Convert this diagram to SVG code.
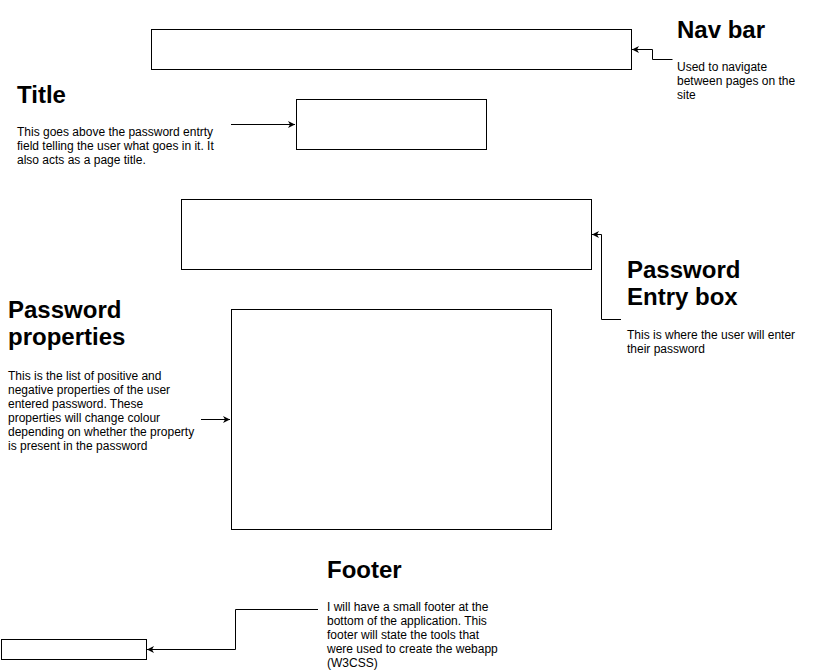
<svg xmlns="http://www.w3.org/2000/svg" width="813" height="670" viewBox="0 0 813 670">
<defs>
<marker id="arr" markerWidth="8" markerHeight="8" refX="7" refY="4" orient="auto" markerUnits="userSpaceOnUse">
<path d="M0,0.5 L7,4 L0,7.5 L2,4 Z" fill="#000"/>
</marker>
<style>
.box{fill:#fff;stroke:#000;stroke-width:1}
.h{font-family:"Liberation Sans",Arial,sans-serif;font-size:24px;font-weight:bold;fill:#000}
.t{font-family:"Liberation Sans",Arial,sans-serif;font-size:12px;fill:#000}
.c{fill:none;stroke:#000;stroke-width:1;marker-end:url(#arr)}
</style>
</defs>
<rect width="813" height="670" fill="#fff"/>
<g id="connectors">
<path class="c" d="M672.5,59.5 H652.5 V49.5 H632"/>
<path class="c" d="M231,124.5 H295"/>
<path class="c" d="M621,319.5 H601.5 V234.5 H592"/>
<path class="c" d="M201,419.5 H230"/>
<path class="c" d="M318,609.5 H235.5 V649.5 H147"/>
</g>
<g id="navbar"><rect class="box" x="151.5" y="29.5" width="480" height="40"/></g>
<g id="title-box"><rect class="box" x="296.5" y="99.5" width="190" height="50"/></g>
<g id="password-entry"><rect class="box" x="181.5" y="199.5" width="410" height="70"/></g>
<g id="password-properties"><rect class="box" x="231.5" y="309.5" width="320" height="220"/></g>
<g id="footer"><rect class="box" x="1.5" y="639.5" width="145" height="20"/></g>
<g id="navbar-note">
<text class="h" x="677" y="38">Nav bar</text>
<text class="t" x="677" y="71">Used to navigate</text>
<text class="t" x="677" y="85">between pages on the</text>
<text class="t" x="677" y="99">site</text>
</g>
<g id="title-note">
<text class="h" x="17" y="103">Title</text>
<text class="t" x="17" y="135.5">This goes above the password entrty</text>
<text class="t" x="17" y="149.5">field telling the user what goes in it. It</text>
<text class="t" x="17" y="163.5">also acts as a page title.</text>
</g>
<g id="password-entry-note">
<text class="h" x="627" y="278">Password</text>
<text class="h" x="627" y="305">Entry box</text>
<text class="t" x="627" y="339">This is where the user will enter</text>
<text class="t" x="627" y="353">their password</text>
</g>
<g id="password-properties-note">
<text class="h" x="8" y="318">Password</text>
<text class="h" x="8" y="345">properties</text>
<text class="t" x="8" y="379.5">This is the list of positive and</text>
<text class="t" x="8" y="393.5">negative properties of the user</text>
<text class="t" x="8" y="407.5">entered password. These</text>
<text class="t" x="8" y="421.5">properties will change colour</text>
<text class="t" x="8" y="435.5">depending on whether the property</text>
<text class="t" x="8" y="449.5">is present in the password</text>
</g>
<g id="footer-note">
<text class="h" x="327" y="578">Footer</text>
<text class="t" x="327" y="611">I will have a small footer at the</text>
<text class="t" x="327" y="625">bottom of the application. This</text>
<text class="t" x="327" y="639">footer will state the tools that</text>
<text class="t" x="327" y="653">were used to create the webapp</text>
<text class="t" x="327" y="667">(W3CSS)</text>
</g>
</svg>
